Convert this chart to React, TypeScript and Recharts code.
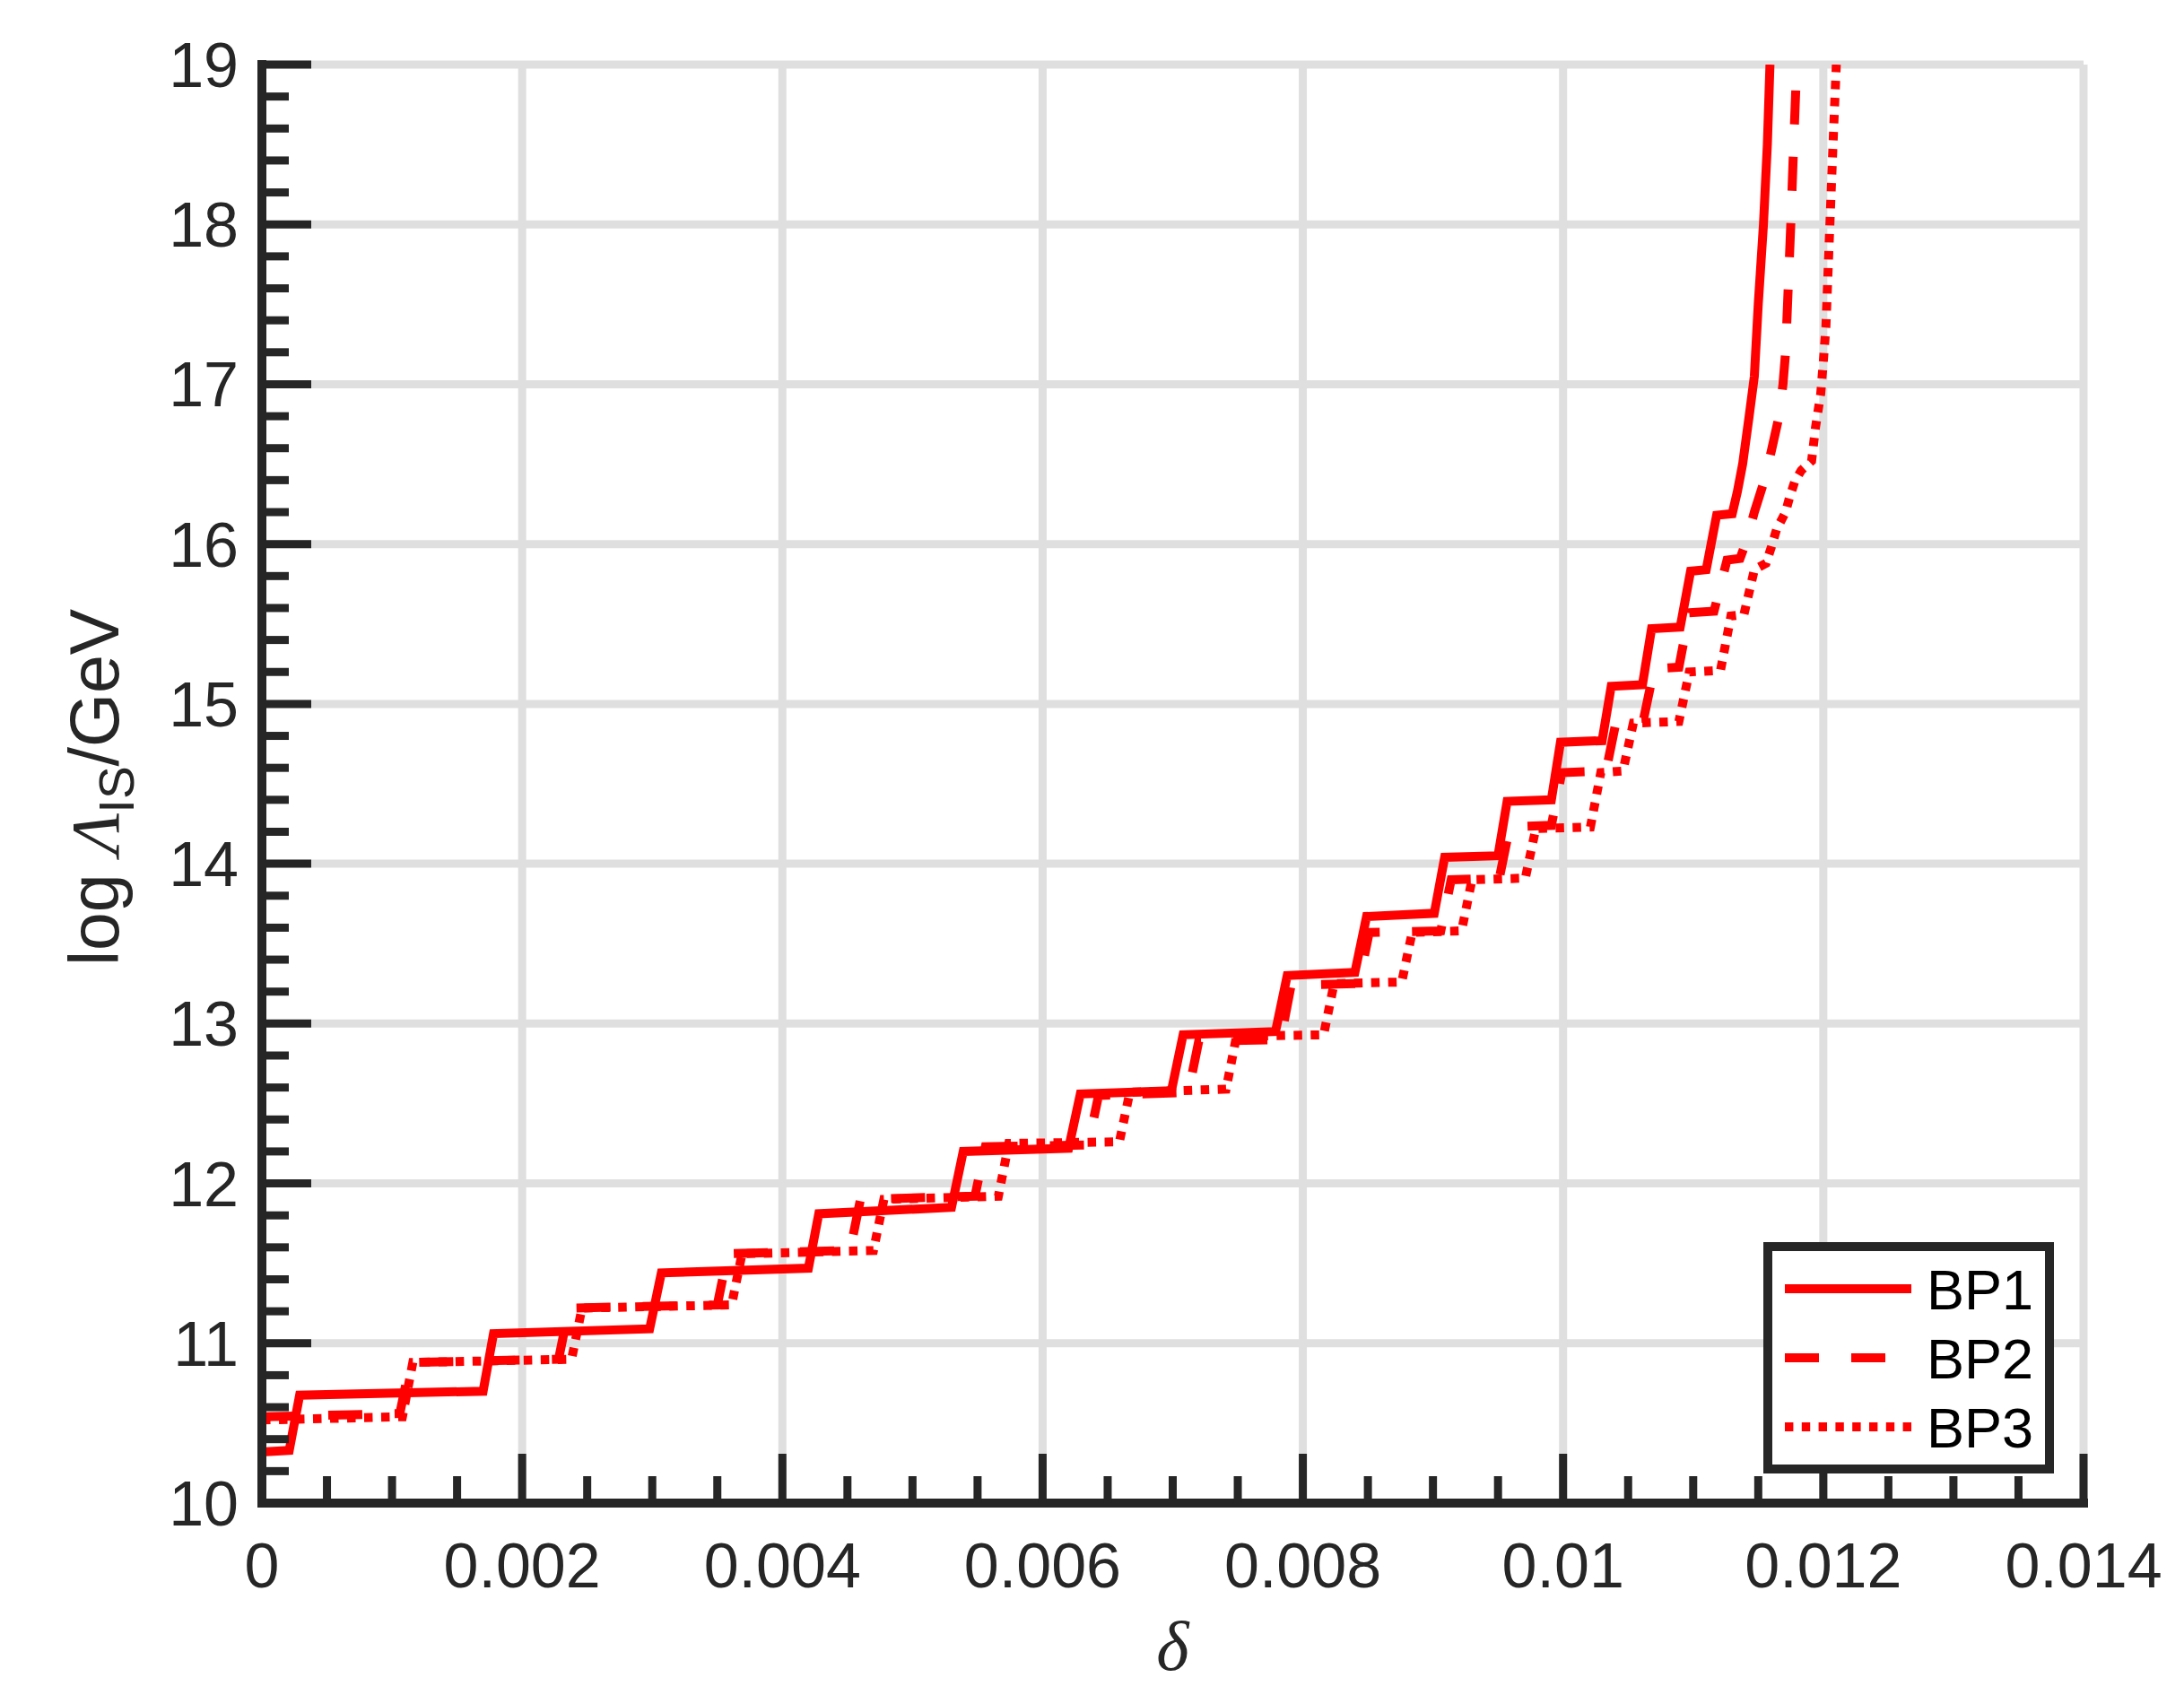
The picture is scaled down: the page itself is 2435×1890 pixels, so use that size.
import React from 'react';
import { LineChart, Line, XAxis, YAxis, CartesianGrid, Legend } from 'recharts';

// ---------- axis ticks ----------
const xMajorTicks = [0, 0.002, 0.004, 0.006, 0.008, 0.01, 0.012, 0.014];
const xMajorLabels = ['0', '0.002', '0.004', '0.006', '0.008', '0.01', '0.012', '0.014'];
const xAllTicks = [
  0, 0.0005, 0.001, 0.0015, 0.002, 0.0025, 0.003, 0.0035, 0.004, 0.0045, 0.005, 0.0055,
  0.006, 0.0065, 0.007, 0.0075, 0.008, 0.0085, 0.009, 0.0095, 0.01, 0.0105, 0.011, 0.0115,
  0.012, 0.0125, 0.013, 0.0135, 0.014,
];
const yMajorTicks = [10, 11, 12, 13, 14, 15, 16, 17, 18, 19];
const yMajorLabels = ['10', '11', '12', '13', '14', '15', '16', '17', '18', '19'];
const yAllTicks = [
  10, 10.2, 10.4, 10.6, 10.8, 11, 11.2, 11.4, 11.6, 11.8, 12, 12.2, 12.4, 12.6, 12.8,
  13, 13.2, 13.4, 13.6, 13.8, 14, 14.2, 14.4, 14.6, 14.8, 15, 15.2, 15.4, 15.6, 15.8,
  16, 16.2, 16.4, 16.6, 16.8, 17, 17.2, 17.4, 17.6, 17.8, 18, 18.2, 18.4, 18.6, 18.8, 19,
];

const seriesNames = ['BP1', 'BP2', 'BP3'];

// ---------- series values: [delta, log Lambda_IS/GeV] ----------
const bp1Points: [number, number][] = [
  [0, 10.32], [0.00021, 10.33], [0.00029, 10.675], [0.0017, 10.7], [0.00178, 11.06],
  [0.00298, 11.09], [0.00307, 11.44], [0.0042, 11.47], [0.00428, 11.81], [0.0053, 11.85],
  [0.00539, 12.2], [0.0062, 12.22], [0.00629, 12.56], [0.00699, 12.58], [0.00708, 12.93],
  [0.00779, 12.95], [0.00788, 13.3], [0.0084, 13.32], [0.00849, 13.67], [0.00901, 13.69],
  [0.00909, 14.04], [0.0095, 14.05], [0.00957, 14.39], [0.00991, 14.4], [0.00998, 14.76],
  [0.0103, 14.77], [0.01037, 15.11], [0.01061, 15.12], [0.01068, 15.47], [0.0109, 15.48],
  [0.01098, 15.83], [0.0111, 15.84], [0.01118, 16.18], [0.0113, 16.19], [0.01134, 16.33],
  [0.01138, 16.5], [0.01143, 16.8], [0.01147, 17.05], [0.0115, 17.5], [0.01154, 18.0],
  [0.01157, 18.5], [0.01159, 19.0],
];

const bp2Points: [number, number][] = [
  [0, 10.54], [0.00106, 10.56], [0.00114, 10.88], [0.00228, 10.9], [0.00236, 11.22],
  [0.0035, 11.24], [0.00358, 11.56], [0.00452, 11.58], [0.0046, 11.9], [0.00548, 11.92],
  [0.00556, 12.23], [0.00635, 12.24], [0.00643, 12.55], [0.00712, 12.57], [0.0072, 12.89],
  [0.00783, 12.9], [0.00791, 13.24], [0.00843, 13.25], [0.00851, 13.57], [0.00906, 13.58],
  [0.00914, 13.9], [0.00951, 13.91], [0.00959, 14.23], [0.00991, 14.24], [0.00999, 14.57],
  [0.01033, 14.58], [0.01041, 14.9], [0.01062, 14.91], [0.0107, 15.22], [0.01089, 15.23],
  [0.01097, 15.57], [0.01116, 15.58], [0.01126, 15.9], [0.01136, 15.91], [0.01141, 16.02],
  [0.01147, 16.2], [0.01154, 16.38], [0.0116, 16.58], [0.01166, 16.8], [0.01169, 17.0],
  [0.01171, 17.2], [0.01173, 17.6], [0.01175, 18.0], [0.01177, 18.45], [0.01179, 18.88],
  [0.0118, 19.0],
];

const bp3Points: [number, number][] = [
  [0, 10.52], [0.00108, 10.54], [0.00116, 10.88], [0.00238, 10.9], [0.00246, 11.22],
  [0.00361, 11.24], [0.00369, 11.56], [0.0047, 11.58], [0.00478, 11.9], [0.00566, 11.92],
  [0.00574, 12.25], [0.00659, 12.26], [0.00667, 12.57], [0.00741, 12.59], [0.00749, 12.92],
  [0.00816, 12.93], [0.00824, 13.25], [0.00876, 13.26], [0.00884, 13.57], [0.00922, 13.58],
  [0.0093, 13.9], [0.00971, 13.91], [0.00979, 14.22], [0.01021, 14.23], [0.01029, 14.57],
  [0.01046, 14.58], [0.01054, 14.88], [0.01089, 14.89], [0.01097, 15.2], [0.01121, 15.21],
  [0.01129, 15.55], [0.01139, 15.56], [0.01147, 15.84], [0.01156, 15.88], [0.0116, 15.98],
  [0.01164, 16.09], [0.01171, 16.2], [0.01174, 16.29], [0.01178, 16.39], [0.01183, 16.46],
  [0.01191, 16.52], [0.01194, 16.73], [0.01198, 16.94], [0.012, 17.14], [0.01202, 17.36],
  [0.01204, 17.78], [0.01206, 18.2], [0.01208, 18.61], [0.0121, 19.0],
];

const toRows = (pts: [number, number][]) => pts.map(([x, y]) => ({ x, y }));
const bp1Data = toRows(bp1Points);
const bp2Data = toRows(bp2Points);
const bp3Data = toRows(bp3Points);

// ---------- styles ----------
const AXIS = '#262626';
const GRID = '#dfdfdf';
const RED = '#ff0000';
const SANS = '"Liberation Sans", Arial, Helvetica, sans-serif';
const SERIF = '"Liberation Serif", "Times New Roman", serif';
const TICK_FONT = 70;
const LINE_W = 10;
const DASH = '38 36';
const DOT = '9.5 9.5';

const findIdx = (arr: number[], v: number) => arr.findIndex((m) => Math.abs(m - v) < 1e-7);

const XTick = (props: any) => {
  const { x, y, payload } = props;
  const idx = findIdx(xMajorTicks, payload.value);
  const major = idx >= 0;
  return (
    <g>
      <line x1={x} x2={x} y1={y} y2={y - (major ? 55 : 30)} stroke={AXIS} strokeWidth={9} />
      {major && (
        <text x={x} y={y + 94} textAnchor="middle" fontSize={TICK_FONT} fontFamily={SANS} fill={AXIS}>
          {xMajorLabels[idx]}
        </text>
      )}
    </g>
  );
};

const YTick = (props: any) => {
  const { x, y, payload } = props;
  const idx = findIdx(yMajorTicks, payload.value);
  const major = idx >= 0;
  return (
    <g>
      <line x1={x} x2={x + (major ? 55 : 30)} y1={y} y2={y} stroke={AXIS} strokeWidth={9} />
      {major && (
        <text x={x - 26} y={y + 25} textAnchor="end" fontSize={TICK_FONT} fontFamily={SANS} fill={AXIS}>
          {yMajorLabels[idx]}
        </text>
      )}
    </g>
  );
};

const XTitle = (props: any) => {
  const vb = props.viewBox || { x: 284, y: 1668, width: 2031, height: 150 };
  return (
    <text
      x={vb.x + vb.width / 2}
      y={vb.y + 186}
      textAnchor="middle"
      fontSize={78}
      fontFamily={SERIF}
      fontStyle="italic"
      fill={AXIS}
    >
      δ
    </text>
  );
};

const YTitle = (props: any) => {
  const vb = props.viewBox || { x: 0, y: 64, width: 284, height: 1604 };
  const cx = vb.x + 124;
  const cy = vb.y + vb.height / 2 + 4;
  return (
    <text
      x={cx}
      y={cy}
      transform={`rotate(-90, ${cx}, ${cy})`}
      textAnchor="middle"
      fontSize={77}
      fontFamily={SANS}
      fill={AXIS}
    >
      log{' '}
      <tspan fontFamily={SERIF} fontStyle="italic">Λ</tspan>
      <tspan fontSize={55} dy={17}>IS</tspan>
      <tspan dy={-17}>/GeV</tspan>
    </text>
  );
};

const LegendBox = () => {
  const rows = [
    { name: seriesNames[0], dash: undefined as string | undefined, y: 52 },
    { name: seriesNames[1], dash: DASH, y: 129 },
    { name: seriesNames[2], dash: '9.4 9.4', y: 206 },
  ];
  return (
    <svg width={324} height={258} style={{ display: 'block' }}>
      <rect x={5} y={5} width={314} height={248} fill="#ffffff" stroke={AXIS} strokeWidth={10} />
      {rows.map((r) => (
        <g key={r.name}>
          <line x1={24} x2={165} y1={r.y} y2={r.y} stroke={RED} strokeWidth={10} strokeDasharray={r.dash} />
          <text x={182} y={r.y + 23} fontSize={63} fontFamily={SANS} fill="#000000">
            {r.name}
          </text>
        </g>
      ))}
    </svg>
  );
};

const gridX = ({ xAxis, offset }: any) =>
  xMajorTicks.map((v) =>
    xAxis && typeof xAxis.scale === 'function'
      ? xAxis.scale(v)
      : offset.left + (v / 0.014) * offset.width,
  );
const gridY = ({ yAxis, offset }: any) =>
  yMajorTicks.map((v) =>
    yAxis && typeof yAxis.scale === 'function'
      ? yAxis.scale(v)
      : offset.top + ((19 - v) / 9) * offset.height,
  );

export default function App() {
  return (
    <div style={{ width: 2419, height: 1870 }}>
      <LineChart width={2419} height={1870} margin={{ top: 64, right: 104, bottom: 52, left: 0 }}>
        <CartesianGrid
          stroke={GRID}
          strokeWidth={9}
          verticalCoordinatesGenerator={gridX}
          horizontalCoordinatesGenerator={gridY}
        />
        <XAxis
          dataKey="x"
          type="number"
          domain={[0, 0.014]}
          allowDataOverflow
          ticks={xAllTicks}
          interval={0}
          tickSize={0}
          tickMargin={0}
          tickLine={false}
          tick={<XTick />}
          height={150}
          axisLine={{ stroke: AXIS, strokeWidth: 10, strokeLinecap: 'square' }}
          label={{ content: <XTitle /> }}
        />
        <YAxis
          type="number"
          domain={[10, 19]}
          allowDataOverflow
          ticks={yAllTicks}
          interval={0}
          tickSize={0}
          tickMargin={0}
          tickLine={false}
          tick={<YTick />}
          width={284}
          axisLine={{ stroke: AXIS, strokeWidth: 10, strokeLinecap: 'square' }}
          label={{ content: <YTitle /> }}
        />
        <Line
          data={bp3Data}
          dataKey="y"
          name={seriesNames[2]}
          type="linear"
          stroke={RED}
          strokeWidth={LINE_W}
          strokeDasharray={DOT}
          dot={false}
          activeDot={false}
          isAnimationActive={false}
        />
        <Line
          data={bp2Data}
          dataKey="y"
          name={seriesNames[1]}
          type="linear"
          stroke={RED}
          strokeWidth={LINE_W}
          strokeDasharray={DASH}
          dot={false}
          activeDot={false}
          isAnimationActive={false}
        />
        <Line
          data={bp1Data}
          dataKey="y"
          name={seriesNames[0]}
          type="linear"
          stroke={RED}
          strokeWidth={LINE_W}
          dot={false}
          activeDot={false}
          isAnimationActive={false}
        />
        <Legend
          layout="horizontal"
          verticalAlign="middle"
          align="center"
          content={<LegendBox />}
          wrapperStyle={{ left: 1958, top: 1377, width: 324, height: 258 }}
        />
      </LineChart>
    </div>
  );
}
